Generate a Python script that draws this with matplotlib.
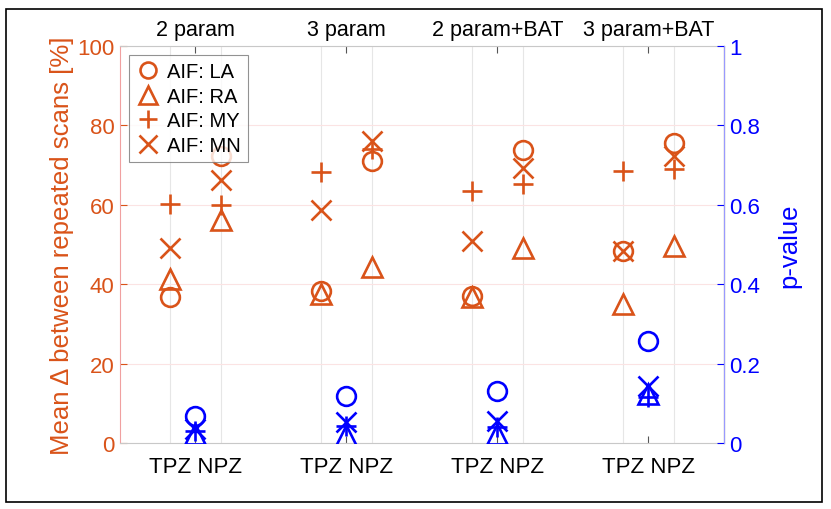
import numpy as np
import matplotlib.pyplot as plt
from matplotlib.patches import Rectangle
from matplotlib.transforms import blended_transform_factory

plt.rcParams['font.family'] = ['Liberation Sans', 'DejaVu Sans']

# 数据
groups = ['2 param', '3 param', '2 param+BAT', '3 param+BAT']
aif_labels = ['AIF: LA', 'AIF: RA', 'AIF: MY', 'AIF: MN']
markers = ['o', '^', '+', 'x']

# mean delta [%], TPZ and NPZ per group
tpz_LA = [36.7, 38.2, 37.1, 48.4]
tpz_RA = [41.3, 37.5, 36.8, 35.0]
tpz_MY = [60.2, 68.2, 63.6, 68.4]
tpz_MN = [49.0, 58.7, 50.8, 48.4]
npz_LA = [72.2, 71.1, 73.8, 75.5]
npz_RA = [56.2, 44.3, 49.1, 49.7]
npz_MY = [60.0, 74.0, 65.2, 69.0]
npz_MN = [66.3, 76.2, 69.2, 72.4]

# p-values
p_LA = [0.068, 0.119, 0.132, 0.258]
p_RA = [0.022, 0.020, 0.022, 0.123]
p_MY = [0.030, 0.042, 0.040, 0.115]
p_MN = [0.036, 0.052, 0.056, 0.144]

red = '#D95319'
blue = '#0000FF'

x = np.arange(1, 5)
off = 1 / 6

fig = plt.figure(figsize=(8.31, 5.10), dpi=100)
ax = fig.add_axes([0.1444, 0.1294, 0.7268, 0.7784])
ax2 = ax.twinx()

tpz = [tpz_LA, tpz_RA, tpz_MY, tpz_MN]
npz = [npz_LA, npz_RA, npz_MY, npz_MN]
pv = [p_LA, p_RA, p_MY, p_MN]
for m, lab, t, n, p in zip(markers, aif_labels, tpz, npz, pv):
    ms = 13.5 if m == 'o' else 14.5
    ax.plot(x - off, t, m, color=red, ms=ms, mew=1.9, mfc='none', label=lab)
    ax.plot(x + off, n, m, color=red, ms=ms, mew=1.9, mfc='none')
    ax2.plot(x, p, m, color=blue, ms=ms, mew=1.9, mfc='none')

# 坐标轴
ax.set_xlim(0.5, 4.5)
ax.set_ylim(0, 100)
ax2.set_ylim(0, 1)
ax.set_yticks(np.arange(0, 101, 20))
ax2.set_yticks(np.arange(0, 1.01, 0.2))
ax2.set_yticklabels(['0', '0.2', '0.4', '0.6', '0.8', '1'])
ax.set_xticks(x)
ax.set_xticklabels(['TPZ NPZ'] * 4, fontsize=16)
ax.set_xticks(np.concatenate([x - off, x + off]), minor=True)

ax.tick_params(axis='x', which='major', direction='in', top=True, length=5,
               color='#555555', pad=9)
ax.tick_params(axis='x', which='minor', length=0)
ax.tick_params(axis='y', direction='in', length=5, colors=red, labelsize=16, pad=4)
ax2.tick_params(axis='y', direction='in', length=5, colors=blue, labelsize=16, pad=4)

ax.grid(True, which='minor', axis='x', color='#e6e6e6', lw=0.8)
ax.grid(True, which='major', axis='y', color='#fbe3e3', lw=0.8)
ax.set_axisbelow(True)

ax.spines['left'].set_color('#f0a0a0')
ax.spines['top'].set_color('#c8c8c8')
ax.spines['bottom'].set_color('#c8c8c8')
ax2.spines['left'].set_visible(False)
ax2.spines['top'].set_visible(False)
ax2.spines['bottom'].set_visible(False)
ax2.spines['right'].set_color('#9999ff')

ax.set_ylabel('Mean Δ between repeated scans [%]', color=red, fontsize=18.5, labelpad=2)
ax2.set_ylabel('p-value', color=blue, fontsize=18.5, labelpad=12)

# 组标题
trans = blended_transform_factory(ax.transData, ax.transAxes)
for xi, g in zip(x, groups):
    ax.text(xi, 1.015, g, transform=trans, ha='center', va='bottom', fontsize=15.5)

leg = ax.legend(loc='upper left', fontsize=14.5, frameon=True, fancybox=False,
                edgecolor='#777777', handletextpad=0.35, borderpad=0.35,
                labelspacing=0.29, handlelength=1.2, borderaxespad=0,
                markerscale=0.85, bbox_to_anchor=(0.015, 0.978))
leg.get_frame().set_linewidth(0.8)

# 外框
fig.patches.append(Rectangle((0.007, 0.014), 0.982, 0.966, transform=fig.transFigure,
                             fill=False, edgecolor='black', lw=1.2))

fig.savefig('out.png', dpi=100)
